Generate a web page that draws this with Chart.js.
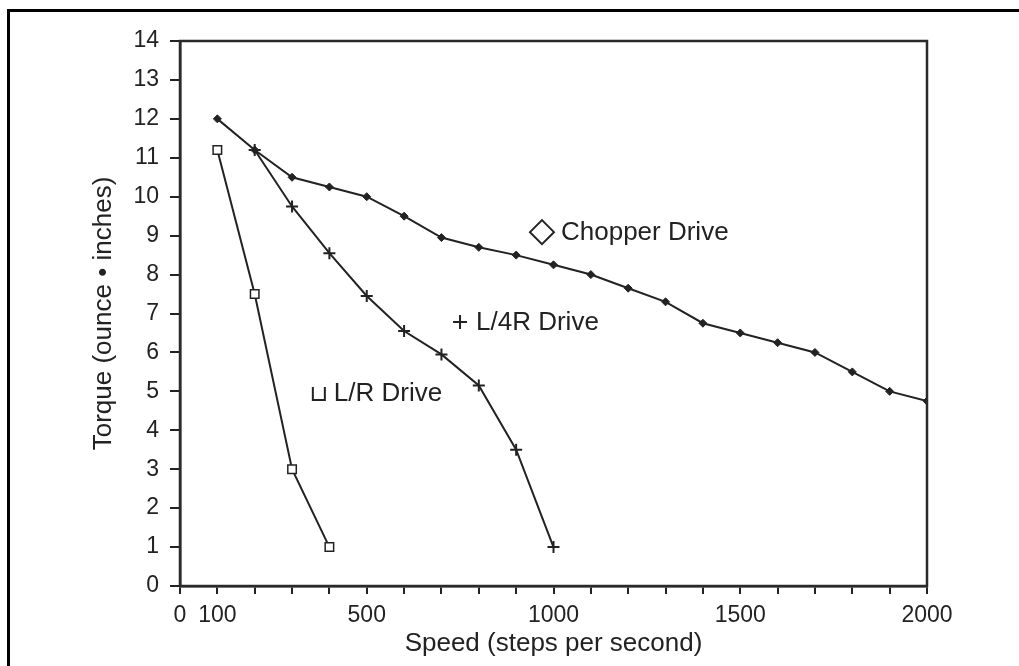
<!DOCTYPE html>
<html>
<head>
<meta charset="utf-8">
<script src="https://cdn.jsdelivr.net/npm/chart.js@4.4.1/dist/chart.umd.min.js"></script>
<style>
  html, body { margin: 0; padding: 0; background: #fff; overflow: hidden; }
  #wrap { position: relative; width: 1019px; height: 666px; }
  #frame { position: absolute; left: 7px; top: 9px; width: 2000px; height: 2000px;
           border-left: 3px solid #000; border-top: 3px solid #000; pointer-events: none; }
  canvas { position: absolute; left: 0; top: 0; }
</style>
</head>
<body>
<div id="wrap">
  <canvas id="myChart" width="1019" height="666"></canvas>
  <div id="frame"></div>
</div>
<script>
// Speed (steps per second) and torque (ounce-inches) for each drive
const chopperSpeed = [100, 200, 300, 400, 500, 600, 700, 800, 900, 1000, 1100, 1200, 1300, 1400, 1500, 1600, 1700, 1800, 1900, 2000];
const chopperTorque = [12.0, 11.2, 10.5, 10.25, 10.0, 9.5, 8.95, 8.7, 8.5, 8.25, 8.0, 7.65, 7.3, 6.75, 6.5, 6.25, 6.0, 5.5, 5.0, 4.75];

const l4rSpeed = [200, 300, 400, 500, 600, 700, 800, 900, 1000];
const l4rTorque = [11.2, 9.75, 8.55, 7.45, 6.55, 5.95, 5.15, 3.5, 1.0];

const lrSpeed = [100, 200, 300, 400];
const lrTorque = [11.2, 7.5, 3.0, 1.0];

const xLabelValues = [0, 100, 500, 1000, 1500, 2000];

const FONT = "'Liberation Sans', Arial, Helvetica, sans-serif";
const INK = '#222';

const toPoints = (xs, ys) => xs.map((x, i) => ({ x: x, y: ys[i] }));

// In-plot labels, anchored in data units (left edge of the symbol, vertical centre)
const seriesLabels = [
    { symbol: 'diamond', text: 'Chopper Drive', x: 937, y: 9.09 },
    { symbol: 'plus', text: 'L/4R Drive', x: 731, y: 6.78 },
    { symbol: 'cup', text: 'L/R Drive', x: 353, y: 4.96 }
];

const seriesLabelPlugin = {
    id: 'seriesLabels',
    afterDatasetsDraw(chart) {
        const { ctx, scales } = chart;
        ctx.save();
        ctx.fillStyle = INK;
        ctx.strokeStyle = INK;
        ctx.font = '26px ' + FONT;
        ctx.textBaseline = 'middle';
        ctx.textAlign = 'left';
        seriesLabels.forEach(l => {
            const px = scales.x.getPixelForValue(l.x);
            const py = scales.y.getPixelForValue(l.y);
            let textX;
            ctx.lineWidth = 2;
            ctx.beginPath();
            if (l.symbol === 'diamond') {
                ctx.moveTo(px, py);
                ctx.lineTo(px + 12, py - 12);
                ctx.lineTo(px + 24, py);
                ctx.lineTo(px + 12, py + 12);
                ctx.closePath();
                textX = px + 31;
            } else if (l.symbol === 'plus') {
                ctx.moveTo(px, py);
                ctx.lineTo(px + 14, py);
                ctx.moveTo(px + 7, py - 7);
                ctx.lineTo(px + 7, py + 7);
                textX = px + 23;
            } else {
                ctx.moveTo(px + 1, py - 6);
                ctx.lineTo(px + 1, py + 7);
                ctx.lineTo(px + 13, py + 7);
                ctx.lineTo(px + 13, py - 6);
                textX = px + 22;
            }
            ctx.stroke();
            ctx.fillText(l.text, textX, py + 1);
        });
        ctx.restore();
    }
};

// Box round the plotting area
const plotFramePlugin = {
    id: 'plotFrame',
    afterDraw(chart) {
        const { ctx, chartArea: a } = chart;
        ctx.save();
        ctx.strokeStyle = '#2a2a2a';
        ctx.lineWidth = 2.5;
        ctx.strokeRect(a.left, a.top, a.right - a.left, a.bottom - a.top);
        ctx.restore();
    }
};

const ctx = document.getElementById('myChart').getContext('2d');

const chart = new Chart(ctx, {
    type: 'line',
    data: {
        datasets: [
            {
                label: 'Chopper Drive',
                data: toPoints(chopperSpeed, chopperTorque),
                borderColor: INK,
                backgroundColor: INK,
                borderWidth: 2,
                pointStyle: 'rectRot',
                pointRadius: 4,
                pointBorderWidth: 1,
                tension: 0
            },
            {
                label: 'L/4R Drive',
                data: toPoints(l4rSpeed, l4rTorque),
                borderColor: INK,
                backgroundColor: INK,
                borderWidth: 2,
                pointStyle: 'cross',
                pointRadius: 6,
                pointBorderWidth: 2,
                tension: 0
            },
            {
                label: 'L/R Drive',
                data: toPoints(lrSpeed, lrTorque),
                borderColor: INK,
                backgroundColor: '#fff',
                borderWidth: 2,
                pointStyle: 'rect',
                pointRadius: 6,
                pointBorderWidth: 1.5,
                tension: 0
            }
        ]
    },
    options: {
        responsive: false,
        animation: false,
        events: [],
        layout: { padding: { left: 0, top: 41, right: 92, bottom: 0 } },
        plugins: {
            legend: { display: false },
            tooltip: { enabled: false }
        },
        scales: {
            x: {
                type: 'linear',
                min: 0,
                max: 2000,
                afterFit: s => { s.height = 80; },
                grid: { drawOnChartArea: false, tickLength: 8, color: INK, lineWidth: 2 },
                border: { display: true, color: INK, width: 2.5 },
                ticks: {
                    stepSize: 100,
                    autoSkip: false,
                    maxRotation: 0,
                    padding: 8,
                    color: INK,
                    font: { family: FONT, size: 23 },
                    callback: v => xLabelValues.includes(v) ? String(v) : ''
                },
                title: {
                    display: true,
                    text: 'Speed (steps per second)',
                    color: INK,
                    font: { family: FONT, size: 26 },
                    padding: { top: 0, bottom: 7 }
                }
            },
            y: {
                type: 'linear',
                min: 0,
                max: 14,
                afterFit: s => { s.width = 180; },
                grid: { drawOnChartArea: false, tickLength: 10, color: INK, lineWidth: 2 },
                border: { display: true, color: INK, width: 2.5 },
                ticks: {
                    stepSize: 1,
                    padding: 11,
                    color: INK,
                    font: { family: FONT, size: 23 }
                },
                title: {
                    display: true,
                    text: 'Torque (ounce \u2022 inches)',
                    color: INK,
                    font: { family: FONT, size: 26 },
                    padding: { top: 88, bottom: 0 }
                }
            }
        }
    },
    plugins: [seriesLabelPlugin, plotFramePlugin]
});
</script>
</body>
</html>
